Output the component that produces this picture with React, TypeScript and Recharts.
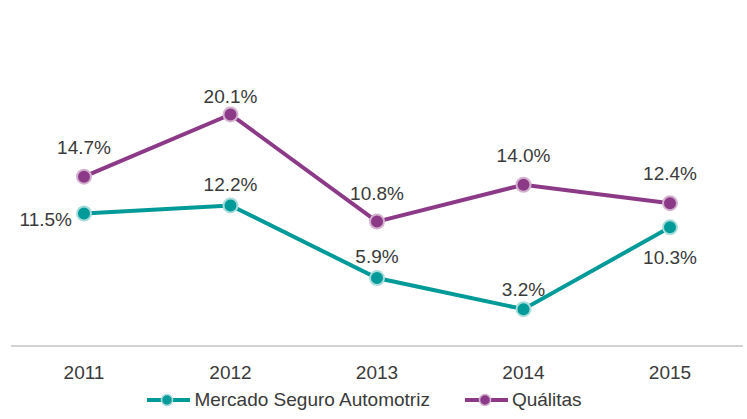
import { LineChart, Line, XAxis, YAxis, Legend, LabelList } from 'recharts';

const years = ['2011', '2012', '2013', '2014', '2015'];
const mercado = [0.115, 0.122, 0.059, 0.032, 0.103];
const qualitas = [0.147, 0.201, 0.108, 0.14, 0.124];

const data = years.map((year, i) => ({ year, mercado: mercado[i], qualitas: qualitas[i] }));

const TEAL = '#009a98';
const PURPLE = '#8c3a87';
const TEXT = '#3a3a3a';
const FONT = '"Liberation Sans", Arial, sans-serif';

const fmt = (v: number) => `${(v * 100).toFixed(1)}%`;

// where each label sits relative to its marker (Excel placed them by hand)
const mercadoPlace = ['left', 'top', 'top', 'top', 'bottom'];
const mercadoGap = [0, 14, 15, 13, 0];
const qualitasGap = [23, 11, 22, 23, 23];

const makeLabel = (place: string[] | null, gaps: number[]) => (props: any) => {
  const { x, y, value, index } = props;
  const where = place ? place[index] : 'top';
  let tx = x;
  let ty = y - gaps[index];
  let anchor: 'middle' | 'end' = 'middle';
  if (where === 'left') {
    tx = x - 12;
    ty = y + 12;
    anchor = 'end';
  } else if (where === 'bottom') {
    ty = y + 37;
  }
  return (
    <text x={tx} y={ty} textAnchor={anchor} fill={TEXT} fontSize={19} fontFamily={FONT}>
      {fmt(value)}
    </text>
  );
};

const LegendContent = () => {
  const items = [
    { name: 'Mercado Seguro Automotriz', color: TEAL, light: '#a8dcdb' },
    { name: 'Quálitas', color: PURPLE, light: '#d3b2d0' },
  ];
  return (
    <div style={{ display: 'flex', justifyContent: 'center', alignItems: 'center', gap: 34, marginLeft: -26 }}>
      {items.map((it) => (
        <div key={it.name} style={{ display: 'flex', alignItems: 'center' }}>
          <svg width={45} height={16} style={{ marginRight: 3 }}>
            <line x1={1} y1={8} x2={44} y2={8} stroke={it.color} strokeWidth={4} />
            <circle cx={21} cy={8} r={5.5} fill={it.color} stroke={it.light} strokeWidth={1.5} />
          </svg>
          <span style={{ fontFamily: FONT, fontSize: 19, color: TEXT }}>{it.name}</span>
        </div>
      ))}
    </div>
  );
};

export default function App() {
  return (
    <div style={{ position: 'absolute', left: 0, top: 0, width: 747, height: 419, background: '#fff' }}>
      <LineChart width={747} height={419} data={data} margin={{ top: 58, right: 4, left: 11, bottom: 0 }}>
        <XAxis
          dataKey="year"
          padding={{ left: 73, right: 73 }}
          axisLine={{ stroke: '#a6a6a6', strokeWidth: 1 }}
          tickLine={false}
          tickSize={0}
          tickMargin={20}
          height={43}
          tick={{ fill: TEXT, fontSize: 19, fontFamily: FONT }}
        />
        <YAxis hide domain={[0, 0.25]} />
        <Legend verticalAlign="bottom" height={30} content={<LegendContent />} />
        <Line
          type="linear"
          dataKey="mercado"
          name="Mercado Seguro Automotriz"
          stroke={TEAL}
          strokeWidth={4}
          dot={{ r: 7, fill: TEAL, stroke: '#a8dcdb', strokeWidth: 2 }}
          isAnimationActive={false}
        >
          <LabelList dataKey="mercado" content={makeLabel(mercadoPlace, mercadoGap)} />
        </Line>
        <Line
          type="linear"
          dataKey="qualitas"
          name="Quálitas"
          stroke={PURPLE}
          strokeWidth={4}
          dot={{ r: 7, fill: PURPLE, stroke: '#d3b2d0', strokeWidth: 2 }}
          isAnimationActive={false}
        >
          <LabelList dataKey="qualitas" content={makeLabel(null, qualitasGap)} />
        </Line>
      </LineChart>
    </div>
  );
}
